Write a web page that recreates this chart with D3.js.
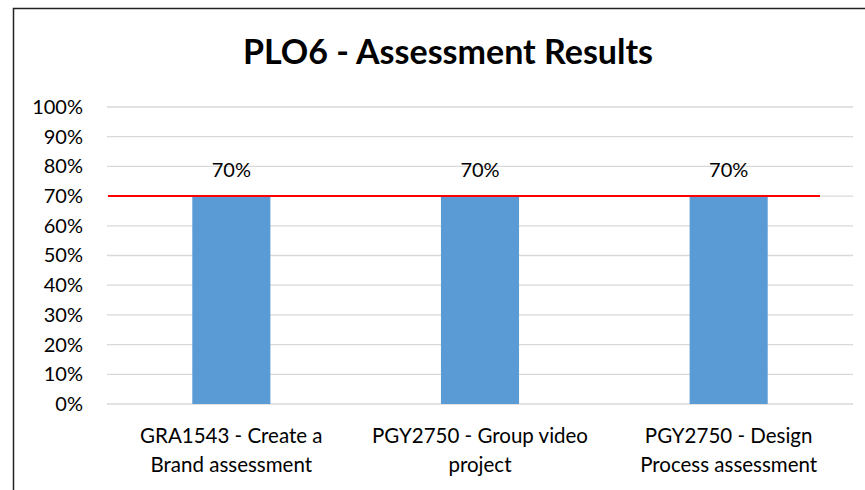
<!DOCTYPE html>
<html>
<head>
<meta charset="utf-8">
<script src="https://cdn.jsdelivr.net/npm/d3@7"></script>
<style>
  body { margin: 0; background: #fff; }
  svg { display: block; font-family: Lato, "Open Sans", sans-serif; }
</style>
</head>
<body>
<svg id="chart"></svg>
<script>
const WIDTH = 865;
const HEIGHT = 490;

// data
const categories = [
    ["GRA1543 - Create a", "Brand assessment"],
    ["PGY2750 - Group video", "project"],
    ["PGY2750 - Design", "Process assessment"]
];
const results = [0.70, 0.70, 0.70];
const target = 0.70;
const yTicks = [0, 0.1, 0.2, 0.3, 0.4, 0.5, 0.6, 0.7, 0.8, 0.9, 1.0];

const margin = {left: 107, right: 12, top: 107, bottom: 86};

let svg = d3.select('#chart')
    .attr('width', WIDTH)
    .attr('height', HEIGHT);

// outer chart border (right and bottom lie outside the picture)
svg.append('rect')
    .attr('x', 13.5).attr('y', 8.5)
    .attr('width', 900).attr('height', 600)
    .style('fill', 'none')
    .style('stroke', '#222')
    .style('stroke-width', 1.5);

svg.append('text')
    .attr('x', 448)
    .attr('y', 64)
    .attr('text-anchor', 'middle')
    .style('font-size', '34px')
    .style('font-weight', 'bold')
    .style('fill', '#000')
    .text('PLO6 - Assessment Results');

const x = d3.scaleBand()
    .domain(d3.range(categories.length))
    .range([margin.left, WIDTH - margin.right])
    .paddingInner(0.686)
    .paddingOuter(0.343);

const y = d3.scaleLinear()
    .domain([0, 1])
    .range([HEIGHT - margin.bottom, margin.top]);

// gridlines
svg.append('g')
    .selectAll('line')
    .data(yTicks)
    .enter()
    .append('line')
    .attr('x1', margin.left)
    .attr('x2', WIDTH - margin.right)
    .attr('y1', d => y(d))
    .attr('y2', d => y(d))
    .style('stroke', '#d9d9d9')
    .style('stroke-width', 1.3);

// y axis labels
const yAxis = d3.axisLeft(y)
    .tickValues(yTicks)
    .tickFormat(d3.format('.0%'))
    .tickSize(0)
    .tickPadding(0);

svg.append('g')
    .attr('transform', 'translate(83,0)')
    .call(yAxis)
    .call(g => g.select('.domain').remove())
    .selectAll('text')
    .style('font-family', 'Lato, "Open Sans", sans-serif')
    .style('font-size', '20px')
    .style('fill', '#000');

// bars
svg.append('g')
    .selectAll('rect')
    .data(results)
    .enter()
    .append('rect')
    .attr('x', (d, i) => x(i))
    .attr('y', d => y(d))
    .attr('width', x.bandwidth())
    .attr('height', d => y(0) - y(d))
    .style('fill', '#5b9bd5');

// value labels
svg.append('g')
    .selectAll('text')
    .data(results)
    .enter()
    .append('text')
    .attr('x', (d, i) => x(i) + x.bandwidth() / 2)
    .attr('y', d => y(d) - 19.5)
    .attr('text-anchor', 'middle')
    .style('font-size', '20px')
    .style('fill', '#000')
    .text(d => d3.format('.0%')(d));

// target line
svg.append('line')
    .attr('x1', margin.left + 1)
    .attr('x2', 820)
    .attr('y1', y(target))
    .attr('y2', y(target))
    .style('stroke', '#ff0000')
    .style('stroke-width', 2);

// category labels
let cats = svg.append('g')
    .selectAll('text')
    .data(categories)
    .enter()
    .append('text')
    .attr('text-anchor', 'middle')
    .style('font-size', '20.5px')
    .style('fill', '#000');

cats.selectAll('tspan')
    .data((d, i) => d.map(line => ({line: line, i: i})))
    .enter()
    .append('tspan')
    .attr('x', d => x(d.i) + x.bandwidth() / 2)
    .attr('y', (d, j) => 443 + j * 29)
    .text(d => d.line);
</script>
</body>
</html>
